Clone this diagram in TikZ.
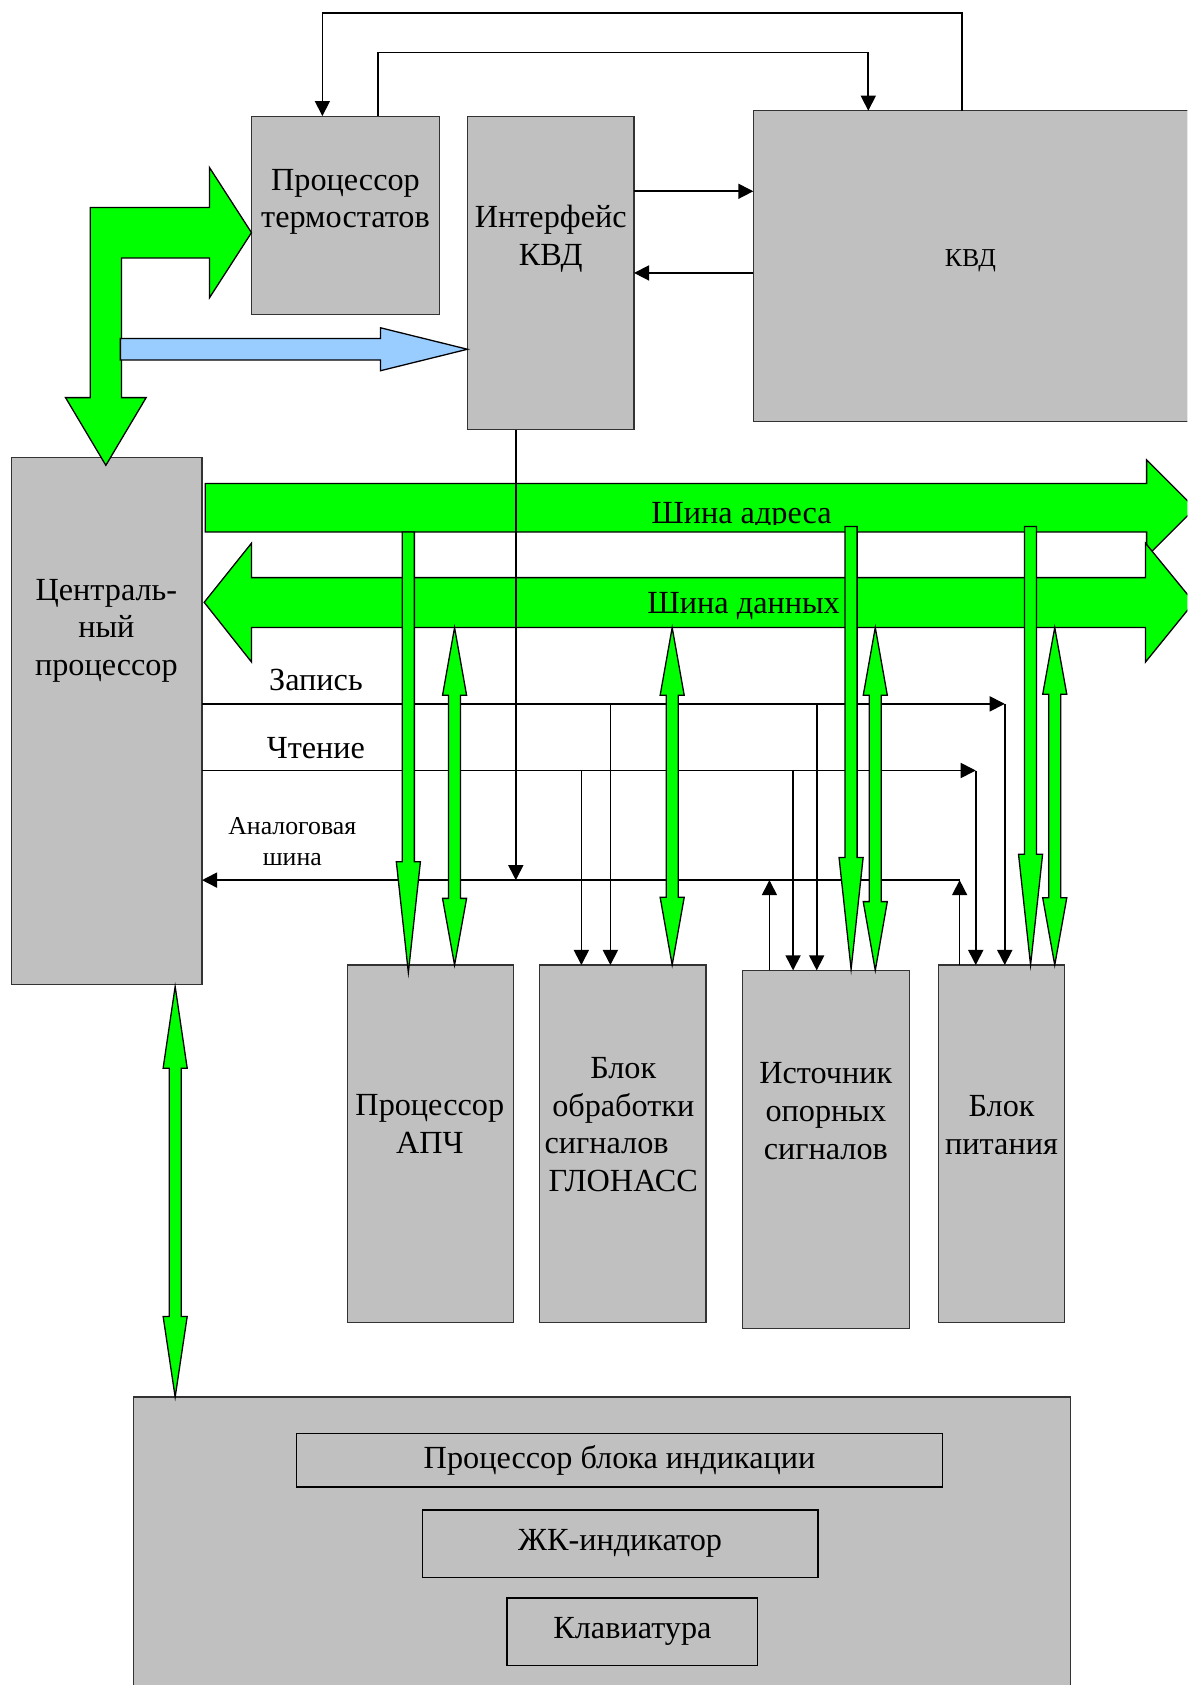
\documentclass[tikz,border=0pt]{standalone}
\usepackage{fontspec}
\setmainfont{Liberation Serif}
\usetikzlibrary{arrows.meta}
\definecolor{boxgray}{RGB}{192,192,192}
\definecolor{busgreen}{RGB}{0,255,0}
\definecolor{lightblue}{RGB}{153,204,255}
\tikzset{
  blk/.style={draw=black!80, line width=0.5pt, fill=boxgray, inner sep=0pt, outer sep=0pt, anchor=north west},
  innerblk/.style={draw=black, line width=0.75pt, fill=boxgray, inner sep=0pt, outer sep=0pt, anchor=north west,
    font=\fontsize{15}{17.5}\selectfont},
  lbl/.style={font=\fontsize{15}{17.5}\selectfont, align=center, inner sep=0pt},
  lblsmall/.style={font=\fontsize{12}{14.5}\selectfont, align=center, inner sep=0pt},
  wire/.style={line width=0.75pt, draw=black},
  tip/.style={-{Triangle[length=7pt,width=7pt]}},
  gbus/.style={draw=black, line width=0.6pt, fill=busgreen, line join=miter},
  bbus/.style={draw=black, line width=0.6pt, fill=lightblue, line join=miter},
}
% block: [style]{name}{x1}{y1}{x2}{y2}{text}
\newcommand\blk[7][blk]{\node[#1, minimum width={(#5-#3)*0.5pt}, minimum height={(#6-#4)*0.5pt}] (#2) at (#3,#4) {#7};}
% green down arrow: x, ytop, yheadbase, ytip
\newcommand\gdown[4]{\draw[gbus] (#1-5.6,#2) -- (#1+5.6,#2) -- (#1+5.6,#3) -- (#1+11.2,#3) -- (#1,#4) -- (#1-11.2,#3) -- (#1-5.6,#3) -- cycle;}
% green double arrow: x, ytoptip, ybase1, ybase2, ybottomtip
\newcommand\gdouble[5]{\draw[gbus] (#1,#2) -- (#1+11.2,#3) -- (#1+5.6,#3) -- (#1+5.6,#4) -- (#1+11.2,#4) -- (#1,#5) -- (#1-11.2,#4) -- (#1-5.6,#4) -- (#1-5.6,#3) -- (#1-11.2,#3) -- cycle;}
\begin{document}
\begin{tikzpicture}[x=0.5pt,y=-0.5pt]
\useasboundingbox (0,0) rectangle (1105,1568);
\clip (0,0) rectangle (1105,1568);
\fill[white] (0,0) rectangle (1105,1568);

% top blocks
\blk{thermo}{234}{108}{409}{293}{}
\blk{iface}{435}{108}{590}{400}{}
\blk{kvd}{701}{103}{1106}{392}{}

% top connectors
\coordinate (kvdA) at (895,103);
\coordinate (thA) at (300,108);
\draw[wire,tip] (kvdA) -- (895,12) -- (300,12) -- (thA);
\coordinate (thB) at (352,108);
\coordinate (kvdB) at (808,103);
\draw[wire,tip] (thB) -- (352,49) -- (808,49) -- (kvdB);
\coordinate (ifo) at (590,178);
\coordinate (kvi) at (701,178);
\draw[wire,tip] (ifo) -- (kvi);
\coordinate (kvo) at (701,254);
\coordinate (ifi) at (590,254);
\draw[wire,tip] (kvo) -- (ifi);

% central processor
\blk{cpu}{11}{426}{188}{916}{}

% green L arrow and blue arrow
\draw[gbus] (84,193) -- (195,193) -- (195,156) -- (234,216.5) -- (195,277) -- (195,240) -- (113,240) -- (113,370) -- (136,370) -- (98.5,433) -- (61,370) -- (84,370) -- cycle;
\draw[bbus] (112,315) -- (354,315) -- (354,305) -- (435,325) -- (354,345) -- (354,335) -- (112,335) -- cycle;

% address bus
\draw[gbus] (191,450) -- (1067,450) -- (1067,428) -- (1112,473) -- (1067,518) -- (1067,495) -- (191,495) -- cycle;
\begin{scope}
\clip (191,450) rectangle (1067,488);
\node[lbl, anchor=base] (addr-t) at (690,487) {Шина адреса};
\end{scope}
% data bus
\draw[gbus] (190,560.5) -- (234,505.5) -- (234,537.5) -- (1066,537.5) -- (1066,505.5) -- (1111,560.5) -- (1066,616) -- (1066,584) -- (234,584) -- (234,616) -- cycle;
\node[lbl, anchor=base] (data-t) at (692,571) {Шина данных};

% interface line to analog bus
\coordinate (ifb) at (480,400);
\coordinate (anI) at (480,819);
\draw[wire,tip] (ifb) -- (anI);

% bottom blocks
\blk{apch}{323}{898}{478}{1231}{}
\blk{glon}{502}{898}{657}{1231}{}
\blk{src}{691}{903}{846}{1236}{}
\blk{pwr}{873}{898}{991}{1231}{}

% write line
\coordinate (wrS) at (188,655);
\coordinate (wrE) at (935,655);
\draw[wire,tip] (wrS) -- (wrE);
\draw[wire,tip] (wrE) -- (935,898);
\draw[wire,tip] (568,655) -- (568,898);
\draw[wire,tip] (760,655) -- (760,903);
% read line
\coordinate (rdS) at (188,717);
\coordinate (rdE) at (908,717);
\draw[wire,tip] (rdS) -- (rdE);
\draw[wire,tip] (rdE) -- (908,898);
\draw[wire,tip] (541,717) -- (541,898);
\draw[wire,tip] (738,717) -- (738,903);
% analog bus
\coordinate (anE) at (893,819);
\coordinate (anS) at (188,819);
\draw[wire,tip] (anE) -- (anS);
\draw[wire,tip] (716,903) -- (716,819);
\draw[wire,tip] (893,898) -- (anE);

% green vertical arrows
\gdown{380}{495}{802}{905}
\gdown{792}{490}{798}{902}
\gdown{959}{490}{795}{898}
\gdouble{423}{584}{647}{836}{898}
\gdouble{625.5}{584}{647}{835}{898}
\gdouble{814.5}{584}{647}{839}{903}
\gdouble{981.5}{584}{646}{835.5}{898}

% display block
\blk{disp}{124}{1300}{996}{1620}{}
\blk[innerblk]{dproc}{276}{1334}{877}{1384}{Процессор блока индикации}
\blk[innerblk]{lcd}{393}{1405}{761}{1468}{ЖК-индикатор}
\blk[innerblk]{kbd}{472}{1487}{705}{1550}{Клавиатура}
\gdouble{163}{918}{994}{1225}{1300}

% labels
\node[lbl] (thermo-t) at (321.5,188) {Процессор\\термостатов};
\node[lbl] (iface-t) at (512.5,222) {Интерфейс\\КВД};
\node[lblsmall] (kvd-t) at (903,243) {КВД};
\node[lbl] (cpu-t) at (99,587) {Централь-\\ный\\процессор};
\node[lbl] (zap-t) at (294,633) {Запись};
\node[lbl] (cht-t) at (294,696) {Чтение};
\node[lblsmall] (an-t) at (272,783) {Аналоговая\\шина};
\node[lbl] (apch-t) at (400,1046) {Процессор\\АПЧ};
\node[lbl] (glon-t) at (580,1046.5) {Блок\\обработки\\сигналов\rule{15.5pt}{0pt}\\ГЛОНАСС};
\node[lbl] (src-t) at (768.5,1034) {Источник\\опорных\\сигналов};
\node[lbl] (pwr-t) at (932,1047) {Блок\\питания};
\end{tikzpicture}
\end{document}
